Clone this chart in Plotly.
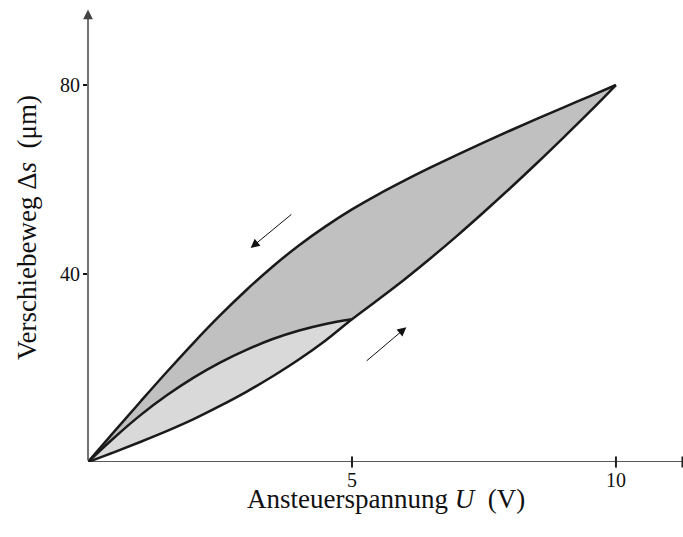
import plotly.graph_objects as go

# ---- data ----
x_vals = [0, 0.5, 1, 1.5, 2, 2.5, 3, 3.5, 4, 4.5, 5, 5.5, 6, 6.5, 7, 7.5, 8, 8.5, 9, 9.5, 10]
upper = [0, 6.5, 12.9, 19.2, 25.3, 31.1, 36.5, 41.5, 46.0, 50.0, 53.6, 56.8, 59.75, 62.55,
         65.25, 67.85, 70.35, 72.8, 75.2, 77.6, 80]
lower = [0, 2.1, 4.3, 6.6, 9.1, 11.9, 14.9, 18.2, 21.8, 25.8, 30.3, 34.5, 38.8, 43.35,
         48.1, 53.05, 58.15, 63.4, 68.8, 74.3, 80]
x_inner = [0, 0.5, 1, 1.5, 2, 2.5, 3, 3.5, 4, 4.5, 5]
inner = [0, 5.2, 10.0, 14.2, 17.9, 21.1, 23.8, 26.1, 27.9, 29.3, 30.3]

x_ticks = [5, 10]
x_tick_labels = ["5", "10"]
x_axis_end = 11.26
y_ticks = [40, 80]
y_tick_labels = ["40", "80"]
y_axis_top = 96

# direction arrows: (tail x, tail y, head x, head y)
arrow_down = (3.88, 52.8, 3.08, 45.4)
arrow_up = (5.25, 21.2, 6.03, 28.6)

DARK = "#c0c0c0"
LIGHT = "#d9d9d9"
LINE = "#1a1a1a"
FONT = "Liberation Serif"

fig = go.Figure()

n5 = x_vals.index(5)
poly_x = x_vals + x_vals[n5:][::-1] + x_inner[::-1]
poly_y = upper + lower[n5:][::-1] + inner[::-1]
fig.add_trace(go.Scatter(x=poly_x, y=poly_y, fill="toself", fillcolor=DARK,
                         mode="none", hoverinfo="skip", showlegend=False))
poly2_x = x_inner + x_vals[:n5 + 1][::-1]
poly2_y = inner + lower[:n5 + 1][::-1]
fig.add_trace(go.Scatter(x=poly2_x, y=poly2_y, fill="toself", fillcolor=LIGHT,
                         mode="none", hoverinfo="skip", showlegend=False))

for xs, ys in [(x_vals, upper), (x_vals, lower), (x_inner, inner)]:
    fig.add_trace(go.Scatter(x=xs, y=ys, mode="lines",
                             line=dict(color=LINE, width=2.5, shape="spline", smoothing=1.0),
                             hoverinfo="skip", showlegend=False, cliponaxis=False))

# x axis line
fig.add_trace(go.Scatter(x=[0, x_axis_end], y=[0, 0], mode="lines",
                         line=dict(color="#222222", width=1.3),
                         hoverinfo="skip", showlegend=False, cliponaxis=False))
# crossing tick marks on x axis
fig.add_trace(go.Scatter(x=x_ticks + [x_axis_end], y=[0] * (len(x_ticks) + 1), mode="markers",
                         marker=dict(symbol="line-ns", size=8,
                                     line=dict(color="#222222", width=2)),
                         hoverinfo="skip", showlegend=False, cliponaxis=False))

annotations = []
annotations.append(dict(x=0, y=y_axis_top, ax=0, ay=0, xref="x", yref="y",
                        axref="x", ayref="y", showarrow=True, arrowhead=2,
                        arrowsize=1.3, arrowwidth=1.5, arrowcolor="#444444", text=""))
for tx, ty, hx, hy in [arrow_down, arrow_up]:
    annotations.append(dict(x=hx, y=hy, ax=tx, ay=ty, xref="x", yref="y",
                            axref="x", ayref="y", showarrow=True, arrowhead=2,
                            arrowsize=1.8, arrowwidth=1, arrowcolor="#111111", text=""))
for v, t in zip(x_ticks, x_tick_labels):
    annotations.append(dict(x=v, y=0, xref="x", yref="y", text=t, showarrow=False,
                            yanchor="middle", yshift=-18, borderpad=0,
                            font=dict(family=FONT, size=20, color="#111111")))
for v, t in zip(y_ticks, y_tick_labels):
    annotations.append(dict(x=0, y=v, xref="x", yref="y", text=t, showarrow=False,
                            xanchor="right", yanchor="middle", xshift=-6,
                            font=dict(family=FONT, size=20, color="#111111")))
annotations.append(dict(x=0.5, y=-0.080, xref="paper", yref="paper", yanchor="middle",
                        xanchor="center", borderpad=0,
                        text="Ansteuerspannung <i>U</i>\u00a0 (V)", showarrow=False,
                        font=dict(family=FONT, size=27, color="#111111")))
annotations.append(dict(x=-0.1025, y=0.512, xref="paper", yref="paper", textangle=-90,
                        xanchor="center", yanchor="middle",
                        text="Verschiebeweg Δ<i>s</i>\u00a0 (μm)", showarrow=False,
                        font=dict(family=FONT, size=27, color="#111111")))

fig.update_layout(
    width=683, height=537,
    margin=dict(l=88, r=0, t=5, b=75, autoexpand=False),
    paper_bgcolor="white", plot_bgcolor="white",
    xaxis=dict(range=[0, 11.27], showgrid=False, zeroline=False, showline=False,
               showticklabels=False, ticks="", fixedrange=True),
    yaxis=dict(range=[0, 96.98], showgrid=False, zeroline=False, showline=False,
               showticklabels=False, ticks="outside", tickvals=y_ticks, ticklen=4,
               tickwidth=1.5, tickcolor="#111111", fixedrange=True),
    annotations=annotations,
)

fig.write_html("out.html", config={"displayModeBar": False},
               post_script="document.body.style.margin='0px';")
